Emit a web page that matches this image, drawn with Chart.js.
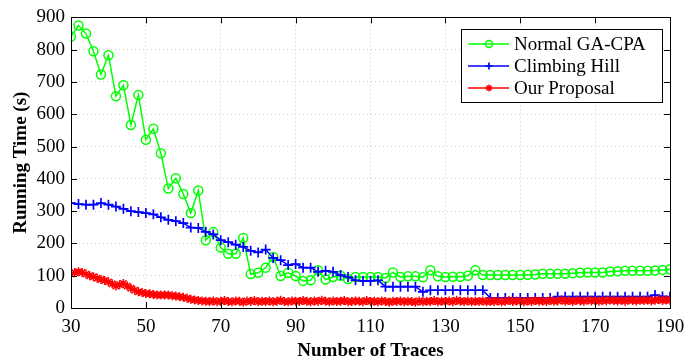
<!DOCTYPE html>
<html lang="en">
<head>
    <meta charset="UTF-8">
    <title>Running Time</title>
    <style>
        body {
            margin: 0;
            padding: 0;
            background-color: #ffffff;
        }
        #chartCanvas {
            display: block;
        }
    </style>
    <script src="https://cdn.jsdelivr.net/npm/chart.js"></script>
</head>
<body>
    <canvas id="chartCanvas" width="696" height="360"></canvas>
    <script>
        // number of traces (every 2) for GA-CPA and Climbing Hill
        const tracesEven = [
            30, 32, 34, 36, 38, 40, 42, 44, 46, 48,
            50, 52, 54, 56, 58, 60, 62, 64, 66, 68,
            70, 72, 74, 76, 78, 80, 82, 84, 86, 88,
            90, 92, 94, 96, 98, 100, 102, 104, 106, 108,
            110, 112, 114, 116, 118, 120, 122, 124, 126, 128,
            130, 132, 134, 136, 138, 140, 142, 144, 146, 148,
            150, 152, 154, 156, 158, 160, 162, 164, 166, 168,
            170, 172, 174, 176, 178, 180, 182, 184, 186, 188,
            190
        ];
        // number of traces (every 1) for our proposal
        const tracesAll = [
            30, 31, 32, 33, 34, 35, 36, 37, 38, 39,
            40, 41, 42, 43, 44, 45, 46, 47, 48, 49,
            50, 51, 52, 53, 54, 55, 56, 57, 58, 59,
            60, 61, 62, 63, 64, 65, 66, 67, 68, 69,
            70, 71, 72, 73, 74, 75, 76, 77, 78, 79,
            80, 81, 82, 83, 84, 85, 86, 87, 88, 89,
            90, 91, 92, 93, 94, 95, 96, 97, 98, 99,
            100, 101, 102, 103, 104, 105, 106, 107, 108, 109,
            110, 111, 112, 113, 114, 115, 116, 117, 118, 119,
            120, 121, 122, 123, 124, 125, 126, 127, 128, 129,
            130, 131, 132, 133, 134, 135, 136, 137, 138, 139,
            140, 141, 142, 143, 144, 145, 146, 147, 148, 149,
            150, 151, 152, 153, 154, 155, 156, 157, 158, 159,
            160, 161, 162, 163, 164, 165, 166, 167, 168, 169,
            170, 171, 172, 173, 174, 175, 176, 177, 178, 179,
            180, 181, 182, 183, 184, 185, 186, 187, 188, 189,
            190
        ];

        const gaCpaTime = [
            841, 875, 850, 795, 723, 783, 656, 690, 567, 660,
            521, 555, 479, 370, 402, 353, 294, 364, 210, 235,
            187, 168, 168, 217, 105, 109, 125, 158, 99, 109,
            99, 84, 86, 117, 88, 96, 100, 90, 96, 96,
            96, 96, 93, 110, 96, 98, 98, 95, 117, 98,
            96, 97, 97, 100, 117, 102, 102, 102, 102, 102,
            102, 103, 104, 106, 106, 106, 106, 108, 109, 110,
            110, 110, 113, 114, 115, 115, 115, 115, 116, 118,
            120
        ];
        const climbingTime = [
            325, 322, 320, 320, 325, 320, 314, 307, 300, 297,
            294, 290, 281, 273, 269, 263, 249, 248, 236, 228,
            210, 204, 196, 189, 177, 172, 181, 155, 148, 133,
            136, 125, 125, 112, 115, 112, 102, 96, 86, 84,
            84, 86, 66, 66, 66, 66, 66, 50, 55, 55,
            55, 55, 55, 55, 55, 55, 31, 31, 31, 31,
            31, 31, 31, 31, 31, 35, 35, 35, 35, 35,
            35, 35, 35, 35, 35, 35, 35, 35, 40, 36,
            35
        ];
        const proposalTime = [
            105, 110, 112, 110, 105, 100, 97, 92, 88, 85,
            81, 75, 68, 72, 76, 68, 61, 55, 50, 48,
            45, 44, 42, 40, 40, 40, 40, 38, 37, 35,
            33, 30, 27, 25, 23, 22, 21, 20, 22, 19,
            21, 23, 20, 19, 22, 21, 18, 22, 20, 23,
            19, 21, 20, 22, 19, 21, 24, 20, 19, 22,
            21, 20, 23, 21, 19, 22, 20, 24, 21, 19,
            22, 20, 21, 23, 19, 20, 22, 21, 19, 23,
            20, 21, 19, 22, 20, 18, 21, 20, 22, 19,
            21, 20, 18, 22, 19, 21, 20, 23, 19, 21,
            20, 22, 19, 24, 21, 20, 22, 19, 21, 20,
            22, 19, 21, 20, 22, 19, 21, 23, 20, 22,
            21, 19, 22, 20, 23, 21, 22, 20, 24, 21,
            22, 25, 21, 23, 20, 24, 22, 21, 25, 22,
            23, 21, 24, 22, 25, 23, 22, 24, 21, 25,
            23, 22, 24, 23, 25, 22, 24, 26, 23, 25,
            24
        ];

        const seriesNames = ['Normal GA-CPA', 'Climbing Hill', 'Our Proposal'];
        const xTicks = [30, 50, 70, 90, 110, 130, 150, 170, 190];
        const yTicks = [0, 100, 200, 300, 400, 500, 600, 700, 800, 900];

        const serif = "'Liberation Serif', 'Times New Roman', serif";

        function toPoints(xs, ys) {
            return xs.map((x, i) => ({ x: x, y: ys[i] }));
        }

        // box around plot with inside tick marks
        const framePlugin = {
            id: 'frame',
            afterDraw(chart) {
                const ctx = chart.ctx;
                const a = chart.chartArea;
                const xs = chart.scales.x;
                const ys = chart.scales.y;
                ctx.save();
                ctx.strokeStyle = '#000';
                ctx.lineWidth = 1;
                ctx.beginPath();
                xTicks.forEach(v => {
                    const px = Math.round(xs.getPixelForValue(v)) + 0.5;
                    ctx.moveTo(px, a.bottom); ctx.lineTo(px, a.bottom - 6);
                    ctx.moveTo(px, a.top); ctx.lineTo(px, a.top + 6);
                });
                yTicks.forEach(v => {
                    const py = Math.round(ys.getPixelForValue(v)) + 0.5;
                    ctx.moveTo(a.left, py); ctx.lineTo(a.left + 6, py);
                    ctx.moveTo(a.right, py); ctx.lineTo(a.right - 6, py);
                });
                ctx.stroke();
                ctx.strokeRect(Math.round(a.left) + 0.5, Math.round(a.top) + 0.5,
                    Math.round(a.right - a.left), Math.round(a.bottom - a.top));
                ctx.restore();
            }
        };

        // matlab style legend box
        const legendPlugin = {
            id: 'boxLegend',
            afterDraw(chart) {
                const ctx = chart.ctx;
                const bx = 461, by = 29, bw = 201, bh = 73;
                ctx.save();
                ctx.fillStyle = '#fff';
                ctx.fillRect(bx, by, bw, bh);
                ctx.strokeStyle = '#000';
                ctx.lineWidth = 1;
                ctx.strokeRect(bx + 0.5, by + 0.5, bw, bh);
                chart.data.datasets.forEach((ds, i) => {
                    const y = 44 + i * 22;
                    ctx.strokeStyle = ds.borderColor;
                    ctx.lineWidth = ds.borderWidth;
                    ctx.beginPath();
                    ctx.moveTo(468, y);
                    ctx.lineTo(509, y);
                    ctx.stroke();
                    ctx.strokeStyle = ds.pointBorderColor;
                    ctx.fillStyle = 'rgba(0,0,0,0)';
                    ctx.lineWidth = ds.pointBorderWidth;
                    Chart.helpers.drawPoint(ctx, {
                        pointStyle: ds.pointStyle,
                        radius: 3.5,
                        borderWidth: ds.pointBorderWidth,
                        rotation: 0
                    }, 489, y);
                    ctx.fillStyle = '#000';
                    ctx.font = '19px ' + serif;
                    ctx.textBaseline = 'middle';
                    ctx.fillText(seriesNames[i], 514, y + 1);
                });
                ctx.restore();
            }
        };

        const ctx = document.getElementById('chartCanvas').getContext('2d');
        const runChart = new Chart(ctx, {
            type: 'line',
            data: {
                datasets: [{
                    label: seriesNames[0],
                    data: toPoints(tracesEven, gaCpaTime),
                    borderColor: '#00ff00',
                    backgroundColor: 'rgba(0,0,0,0)',
                    borderWidth: 1.5,
                    pointStyle: 'circle',
                    pointRadius: 4.5,
                    pointBorderWidth: 1.5,
                    pointBorderColor: '#00ff00',
                    pointBackgroundColor: 'rgba(0,0,0,0)',
                    order: 3
                }, {
                    label: seriesNames[1],
                    data: toPoints(tracesEven, climbingTime),
                    borderColor: '#0000ff',
                    backgroundColor: 'rgba(0,0,0,0)',
                    borderWidth: 1.5,
                    pointStyle: 'cross',
                    pointRadius: 5,
                    pointBorderWidth: 1.7,
                    pointBorderColor: '#0000ff',
                    order: 2
                }, {
                    label: seriesNames[2],
                    data: toPoints(tracesAll, proposalTime),
                    borderColor: '#ff0000',
                    backgroundColor: 'rgba(0,0,0,0)',
                    borderWidth: 1.5,
                    pointStyle: 'star',
                    pointRadius: 4.5,
                    pointBorderWidth: 1.5,
                    pointBorderColor: '#ff0000',
                    order: 1
                }]
            },
            options: {
                responsive: false,
                animation: false,
                layout: {
                    padding: { left: 0, right: 26, top: 16, bottom: 0 }
                },
                elements: { line: { tension: 0 } },
                plugins: {
                    legend: { display: false },
                    tooltip: { enabled: false }
                },
                scales: {
                    x: {
                        type: 'linear',
                        min: 30,
                        max: 190,
                        afterBuildTicks(scale) {
                            scale.ticks = xTicks.map(v => ({ value: v }));
                        },
                        afterFit(scale) { scale.height = 52; },
                        grid: { color: '#cfcfcf', drawTicks: false },
                        border: { display: false, dash: [1, 3] },
                        ticks: {
                            color: '#000',
                            padding: 8,
                            maxRotation: 0,
                            font: { family: serif, size: 19 }
                        },
                        title: {
                            display: true,
                            text: 'Number of Traces',
                            color: '#000',
                            padding: { top: 0, bottom: -2 },
                            font: { family: serif, size: 19, weight: 'bold' }
                        }
                    },
                    y: {
                        type: 'linear',
                        min: 0,
                        max: 900,
                        afterBuildTicks(scale) {
                            scale.ticks = yTicks.map(v => ({ value: v }));
                        },
                        afterFit(scale) { scale.width = 71; },
                        grid: { color: '#cfcfcf', drawTicks: false },
                        border: { display: false, dash: [1, 3] },
                        ticks: {
                            color: '#000',
                            padding: 6,
                            font: { family: serif, size: 19 }
                        },
                        title: {
                            display: true,
                            text: 'Running Time (s)',
                            color: '#000',
                            padding: { top: 10, bottom: 0 },
                            font: { family: serif, size: 19, weight: 'bold' }
                        }
                    }
                }
            },
            plugins: [framePlugin, legendPlugin]
        });
    </script>
</body>
</html>
